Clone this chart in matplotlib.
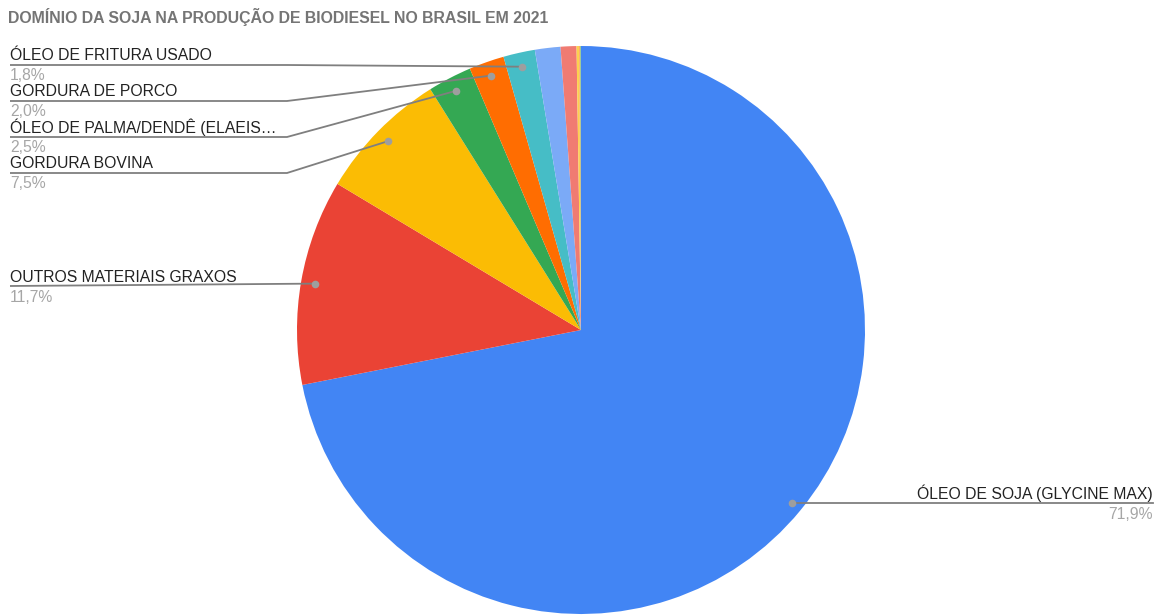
import matplotlib.pyplot as plt
import numpy as np

# participação das matérias-primas no biodiesel, 2021 (%)
materias = [
    "ÓLEO DE SOJA (GLYCINE MAX)",
    "OUTROS MATERIAIS GRAXOS",
    "GORDURA BOVINA",
    "ÓLEO DE PALMA/DENDÊ (ELAEIS GUINEENSIS)",
    "GORDURA DE PORCO",
    "ÓLEO DE FRITURA USADO",
    "ÓLEO DE ALGODÃO",
    "GORDURA DE FRANGO",
    "ÓLEO DE MILHO",
    "ÓLEO DE COLZA/CANOLA",
    "ÓLEO DE NABO-FORRAGEIRO",
]
participacao = [71.9, 11.7, 7.5, 2.5, 2.0, 1.8, 1.45, 0.9, 0.15, 0.06, 0.04]
cores = ["#4285F4", "#EA4335", "#FBBC04", "#34A853", "#FF6D01", "#46BDC6",
         "#7BAAF7", "#F07B72", "#FCD04F", "#FF994D", "#71C287"]

# fatias com rótulo: índice, y da linha-guia (px do topo), lado
rotulos = [(5, 65, "esq"), (4, 101, "esq"), (3, 137, "esq"), (2, 173, "esq"),
           (1, 286, "esq"), (0, None, "dir")]

W, H = 1161, 616
plt.rcParams['font.family'] = ['Liberation Sans', 'DejaVu Sans']

fig = plt.figure(figsize=(W / 100, H / 100), dpi=100)
ax = fig.add_axes([0, 0, 1, 1])

cx, cy, r = 581, H - 330, 284
wedges, _ = ax.pie(participacao, colors=cores, startangle=90, counterclock=False,
                   center=(cx, cy), radius=r,
                   wedgeprops=dict(linewidth=0))
ax.set_xlim(0, W)
ax.set_ylim(0, H)
ax.set_aspect('equal')
ax.axis('off')

cor_linha = "#7f7f7f"
fs = 11.3
for i, ylinha, lado in rotulos:
    w = wedges[i]
    ang = np.deg2rad((w.theta1 + w.theta2) / 2)
    rd = 0.96 * r if lado == "dir" else 0.95 * r
    px = cx + rd * np.cos(ang)
    py = cy + rd * np.sin(ang)
    yl = py if ylinha is None else H - ylinha
    nome = materias[i]
    if len(nome) > 30:
        nome = nome[:27] + "…"
    pct = f"{participacao[i]:.1f}%".replace(".", ",")
    if lado == "esq":
        if i == 1:
            xs, ys = [10, px], [yl, py]
        else:
            xs, ys = [10, 287, px], [yl, yl, py]
        ax.plot(xs, ys, color=cor_linha, lw=1.3, solid_capstyle='butt', zorder=3)
        ax.text(10, yl + 4.5, nome, fontsize=fs, color="#222222",
                ha='left', va='baseline')
        ax.text(10, yl - 15.5, pct, fontsize=fs, color="#a6a6a6",
                ha='left', va='baseline')
    else:
        ax.plot([px, 1153], [yl, yl], color=cor_linha, lw=1.3, zorder=3)
        ax.text(1153, yl + 4.5, nome, fontsize=fs, color="#222222",
                ha='right', va='baseline')
        ax.text(1153, yl - 15.5, pct, fontsize=fs, color="#a6a6a6",
                ha='right', va='baseline')
    ax.plot(px, py, 'o', ms=5.5, color="#9e9e9e", mec='none', zorder=4)

fig.text(8 / W, 1 - 22.5 / H, "DOMÍNIO DA SOJA NA PRODUÇÃO DE BIODIESEL NO BRASIL EM 2021",
         fontsize=11.4, fontweight='bold', color="#757575", ha='left', va='baseline')

fig.savefig("out.png", dpi=100)
